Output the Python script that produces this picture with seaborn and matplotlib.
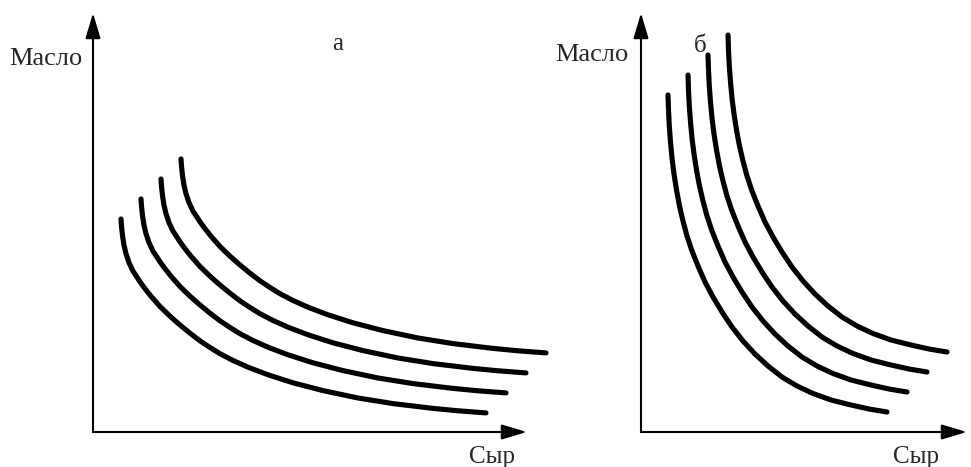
import matplotlib
matplotlib.use("Agg")
import matplotlib.pyplot as plt
import seaborn as sns
import pandas as pd

# Panel "а": four flat indifference curves (Сыр on x, Масло on y)
a_x1 = [2.80, 2.86, 2.95, 3.10, 3.30, 3.60, 4.00, 4.70, 5.20, 5.80, 6.70, 7.70, 8.70, 9.70,
        10.70, 11.70, 12.70, 14.00, 15.50, 17.50, 20.00, 23.00, 26.50, 30.00, 34.00, 36.50, 39.30]
a_y1 = [21.30, 20.48, 19.64, 18.68, 17.83, 16.94, 16.09, 15.02, 14.33, 13.58, 12.55, 11.58, 10.70, 9.88,
        9.12, 8.45, 7.83, 7.15, 6.48, 5.72, 4.92, 4.14, 3.40, 2.84, 2.36, 2.12, 1.91]
a_x2 = [4.80, 4.86, 4.95, 5.10, 5.30, 5.60, 6.00, 6.70, 7.20, 7.80, 8.70, 9.70, 10.70, 11.70,
        12.70, 13.70, 14.70, 16.00, 17.50, 19.50, 22.00, 25.00, 28.50, 32.00, 36.00, 38.50, 41.30]
a_y2 = [23.30, 22.48, 21.64, 20.68, 19.83, 18.94, 18.09, 17.02, 16.33, 15.58, 14.55, 13.58, 12.70, 11.88,
        11.12, 10.45, 9.83, 9.15, 8.48, 7.72, 6.92, 6.14, 5.40, 4.84, 4.36, 4.12, 3.91]
a_x3 = [6.80, 6.86, 6.95, 7.10, 7.30, 7.60, 8.00, 8.70, 9.20, 9.80, 10.70, 11.70, 12.70, 13.70,
        14.70, 15.70, 16.70, 18.00, 19.50, 21.50, 24.00, 27.00, 30.50, 34.00, 38.00, 40.50, 43.30]
a_y3 = [25.30, 24.48, 23.64, 22.68, 21.83, 20.94, 20.09, 19.02, 18.33, 17.58, 16.55, 15.58, 14.70, 13.88,
        13.12, 12.45, 11.83, 11.15, 10.48, 9.72, 8.92, 8.14, 7.40, 6.84, 6.36, 6.12, 5.91]
a_x4 = [8.80, 8.86, 8.95, 9.10, 9.30, 9.60, 10.00, 10.70, 11.20, 11.80, 12.70, 13.70, 14.70, 15.70,
        16.70, 17.70, 18.70, 20.00, 21.50, 23.50, 26.00, 29.00, 32.50, 36.00, 40.00, 42.50, 45.30]
a_y4 = [27.30, 26.48, 25.64, 24.68, 23.83, 22.94, 22.09, 21.02, 20.33, 19.58, 18.55, 17.58, 16.70, 15.88,
        15.12, 14.45, 13.83, 13.15, 12.48, 11.72, 10.92, 10.14, 9.40, 8.84, 8.36, 8.12, 7.91]

# Panel "б": four steep indifference curves
b_x1 = [2.70, 2.75, 2.83, 2.95, 3.10, 3.30, 3.55, 3.85, 4.20, 4.60, 5.10, 5.70, 6.40,
        7.20, 8.10, 9.10, 10.20, 11.40, 12.70, 14.10, 15.60, 17.20, 19.00, 21.00, 22.80, 24.60]
b_y1 = [33.70, 32.20, 30.60, 29.00, 27.40, 25.80, 24.20, 22.60, 21.10, 19.60, 18.10, 16.60, 15.00,
        13.50, 12.00, 10.50, 9.10, 7.80, 6.60, 5.50, 4.60, 3.85, 3.20, 2.70, 2.30, 2.00]
b_x2 = [4.70, 4.75, 4.83, 4.95, 5.10, 5.30, 5.55, 5.85, 6.20, 6.60, 7.10, 7.70, 8.40,
        9.20, 10.10, 11.10, 12.20, 13.40, 14.70, 16.10, 17.60, 19.20, 21.00, 23.00, 24.80, 26.60]
b_y2 = [35.70, 34.20, 32.60, 31.00, 29.40, 27.80, 26.20, 24.60, 23.10, 21.60, 20.10, 18.60, 17.00,
        15.50, 14.00, 12.50, 11.10, 9.80, 8.60, 7.50, 6.60, 5.85, 5.20, 4.70, 4.30, 4.00]
b_x3 = [6.70, 6.75, 6.83, 6.95, 7.10, 7.30, 7.55, 7.85, 8.20, 8.60, 9.10, 9.70, 10.40,
        11.20, 12.10, 13.10, 14.20, 15.40, 16.70, 18.10, 19.60, 21.20, 23.00, 25.00, 26.80, 28.60]
b_y3 = [37.70, 36.20, 34.60, 33.00, 31.40, 29.80, 28.20, 26.60, 25.10, 23.60, 22.10, 20.60, 19.00,
        17.50, 16.00, 14.50, 13.10, 11.80, 10.60, 9.50, 8.60, 7.85, 7.20, 6.70, 6.30, 6.00]
b_x4 = [8.70, 8.75, 8.83, 8.95, 9.10, 9.30, 9.55, 9.85, 10.20, 10.60, 11.10, 11.70, 12.40,
        13.20, 14.10, 15.10, 16.20, 17.40, 18.70, 20.10, 21.60, 23.20, 25.00, 27.00, 28.80, 30.60]
b_y4 = [39.70, 38.20, 36.60, 35.00, 33.40, 31.80, 30.20, 28.60, 27.10, 25.60, 24.10, 22.60, 21.00,
        19.50, 18.00, 16.50, 15.10, 13.80, 12.60, 11.50, 10.60, 9.85, 9.20, 8.70, 8.30, 8.00]

panel_titles = ["а", "б"]
x_label = "Сыр"
y_label = "Масло"

sns.set_theme(style="white")
plt.rcParams["font.family"] = ["Liberation Serif", "DejaVu Serif"]

W, H = 971, 467
fig = plt.figure(figsize=(W / 100, H / 100), dpi=100)


def add_panel(x0, x1, y0, y1):
    # one data unit = 10 px; origin at the corner of the axis arrows
    ax = fig.add_axes([x0 / W, 1 - y0 / H, (x1 - x0) / W, (y0 - y1) / H])
    ax.set_xlim(0, (x1 - x0) / 10)
    ax.set_ylim(0, (y0 - y1) / 10)
    ax.set_axis_off()
    return ax


def draw_axes_arrows(ax):
    xmax = ax.get_xlim()[1]
    ymax = ax.get_ylim()[1]
    style = "-|>,head_length=15.5,head_width=4.6"
    for tip in [(xmax, 0), (0, ymax)]:
        ax.annotate("", xy=tip, xytext=(0, 0),
                    arrowprops=dict(arrowstyle=style, color="black", lw=1.5,
                                    shrinkA=0, shrinkB=0, mutation_scale=1),
                    annotation_clip=False)


def draw_curves(ax, curves):
    for xs, ys in curves:
        df = pd.DataFrame({"x": xs, "y": ys})
        sns.lineplot(data=df, x="x", y="y", sort=False, estimator=None,
                     color="black", linewidth=3.7, ax=ax, clip_on=False,
                     solid_capstyle="round", solid_joinstyle="round")
    ax.set_axis_off()


ax_a = add_panel(93, 527, 432, 13)
ax_b = add_panel(641, 967, 432, 13)

draw_curves(ax_a, [(a_x1, a_y1), (a_x2, a_y2), (a_x3, a_y3), (a_x4, a_y4)])
draw_curves(ax_b, [(b_x1, b_y1), (b_x2, b_y2), (b_x3, b_y3), (b_x4, b_y4)])

for ax in (ax_a, ax_b):
    draw_axes_arrows(ax)

ax_a.text(-1.1, 36.7, y_label, ha="right", va="baseline", fontsize=19)
ax_b.text(-1.3, 37.1, y_label, ha="right", va="baseline", fontsize=19)
ax_a.text(24.5, 38.2, panel_titles[0], ha="center", va="baseline", fontsize=18)
ax_b.text(5.9, 38.0, panel_titles[1], ha="center", va="baseline", fontsize=18)
ax_a.text(37.6, -3.1, x_label, ha="left", va="baseline", fontsize=18)
ax_b.text(25.2, -3.1, x_label, ha="left", va="baseline", fontsize=18)

fig.savefig("out.png", dpi=100, facecolor="white")
